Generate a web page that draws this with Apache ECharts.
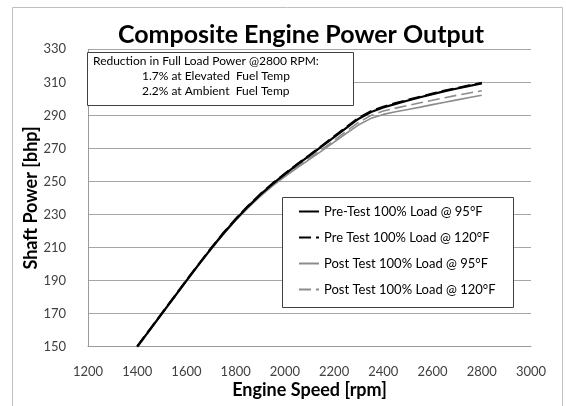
<!DOCTYPE html>
<html><head><meta charset="utf-8">
<script src="https://cdn.jsdelivr.net/npm/echarts@6/dist/echarts.min.js"></script>
<style>html,body{margin:0;padding:0;background:#fff}#c{width:566px;height:406px}</style>
</head><body><div id="c"></div>
<script>
const rpm = [1400,1450,1500,1550,1600,1650,1700,1750,1800,1850,1900,1950,2000,2050,2100,2150,2200,2250,2300,2350,2400,2450,2500,2550,2600,2650,2700,2750,2800];
const pre95  = [150,160,170,180,190,199.8,209.4,218.5,227,234.8,242,248.5,254.5,260.2,265.7,271.2,276.8,282.5,288,292,294.8,297,299,301,302.9,304.7,306.3,307.9,309.3];
const pre120 = [150.2,160.2,170.2,180.2,190.2,200,209.6,218.8,227.3,235.1,242.3,248.8,254.8,260.5,266,271.6,277.3,283,288.5,292.5,295.2,297.4,299.4,301.3,303.2,305,306.6,308.2,309.7];
const post95 = [149.6,159.6,169.6,179.6,189.6,199.4,208.9,218,226.4,234,241,247.3,253,258.3,263.4,268.5,273.8,279.2,284.3,288.2,290.6,292.2,293.6,295,296.5,297.9,299.4,300.8,302.2];
const post120= [149.8,159.8,169.8,179.8,189.8,199.6,209.1,218.2,226.7,234.3,241.4,247.7,253.5,259,264.2,269.4,274.9,280.5,285.8,290,292.6,294.4,296,297.6,299.2,300.7,302.2,303.6,304.9];
const seriesNames = ['Pre-Test 100% Load @ 95°F','Pre Test 100% Load @ 120°F','Post Test 100% Load @ 95°F','Post Test 100% Load @ 120°F'];
const xTicks = {min:1200,max:3000,interval:200};
const yTicks = {min:150,max:330,interval:20};
const titleText = 'Composite Engine Power Output';
const xName = 'Engine Speed [rpm]';
const yName = 'Shaft Power [bhp]';
const noteLines = ['Reduction in Full Load Power @2800 RPM:','1.7% at Elevated  Fuel Temp','2.2% at Ambient  Fuel Temp'];

const FONT = 'Lato';
const DASH = [12,5];
const pair = a => rpm.map((x,i)=>[x,a[i]]);
const chart = echarts.init(document.getElementById('c'), null, {renderer:'canvas'});
chart.setOption({
  animation:false,
  textStyle:{fontFamily:FONT},
  title:{text:titleText,left:296,textAlign:'center',top:17,textStyle:{fontFamily:FONT,fontSize:25,fontWeight:'bold',color:'#000'}},
  grid:{left:88,right:35,top:49.3,bottom:59.3},
  xAxis:{type:'value',min:xTicks.min,max:xTicks.max,interval:xTicks.interval,
    name:xName,nameLocation:'middle',nameGap:34,nameMoveOverlap:false,nameTextStyle:{fontFamily:FONT,fontSize:18,fontWeight:'bold',color:'#000'},
    axisLine:{show:true,lineStyle:{color:'#9a9a9a'}},axisTick:{show:false},
    axisLabel:{color:'#404040',fontSize:13,margin:19,fontFamily:FONT,formatter:v=>String(v)},splitLine:{show:false}},
  yAxis:{type:'value',min:yTicks.min,max:yTicks.max,interval:yTicks.interval,
    name:yName,nameLocation:'middle',nameGap:48,nameMoveOverlap:false,nameTextStyle:{fontFamily:FONT,fontSize:18,fontWeight:'bold',color:'#000'},
    axisLine:{show:true,lineStyle:{color:'#9a9a9a'}},axisTick:{show:false},
    axisLabel:{color:'#404040',fontSize:13,margin:22,fontFamily:FONT,formatter:v=>String(v)},
    splitLine:{show:true,lineStyle:{color:'#a6a6a6',width:1}}},
  legend:{orient:'vertical',left:282,top:197,padding:[8,20,7,16],itemWidth:20,itemHeight:14,itemGap:13,
    itemStyle:{color:'rgba(0,0,0,0)',borderColor:'rgba(0,0,0,0)',borderWidth:0,opacity:0},
    textStyle:{fontFamily:FONT,fontSize:13,color:'#000'},
    data:seriesNames},
  series:[
    {name:seriesNames[0],type:'line',data:pair(pre95),showSymbol:false,symbol:'none',lineStyle:{color:'#000',width:2.2},itemStyle:{color:'#000'},z:4},
    {name:seriesNames[1],type:'line',data:pair(pre120),showSymbol:false,symbol:'none',lineStyle:{color:'#000',width:2.2,type:DASH},itemStyle:{color:'#000'},z:5},
    {name:seriesNames[2],type:'line',data:pair(post95),showSymbol:false,symbol:'none',lineStyle:{color:'#8c8c8c',width:1.6},itemStyle:{color:'#8c8c8c'},z:3},
    {name:seriesNames[3],type:'line',data:pair(post120),showSymbol:false,symbol:'none',lineStyle:{color:'#8c8c8c',width:1.6,type:DASH},itemStyle:{color:'#8c8c8c'},z:3}
  ],
  graphic:[
    {type:'rect',shape:{x:12.5,y:7.5,width:550,height:420},style:{fill:null,stroke:'#bfbfbf',lineWidth:1},silent:true,z:-10},
    {type:'rect',shape:{x:282.5,y:197.5,width:231,height:110},style:{fill:'#fff',stroke:'#404040',lineWidth:1},z:1,silent:true},
    {type:'rect',shape:{x:87.5,y:52.5,width:266,height:53},style:{fill:'#fff',stroke:'#404040',lineWidth:1},z:10},
    {type:'text',left:93,top:55,style:{text:noteLines[0],font:'12px '+FONT,fill:'#000'},z:11},
    {type:'text',left:142,top:70,style:{text:noteLines[1],font:'12px '+FONT,fill:'#000'},z:11},
    {type:'text',left:142,top:85,style:{text:noteLines[2],font:'12px '+FONT,fill:'#000'},z:11}
  ]
});
</script></body></html>
